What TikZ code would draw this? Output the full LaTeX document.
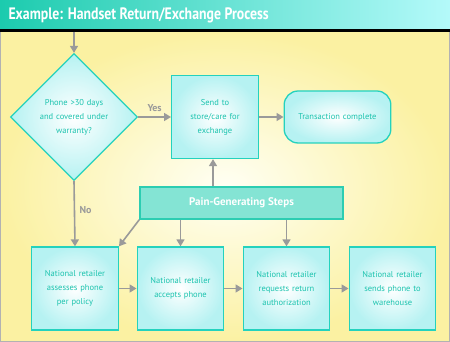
\documentclass[tikz,border=0pt]{standalone}
\usepackage{fontspec}
\setmainfont{PT Sans}
\usepackage{xcolor}
\usetikzlibrary{arrows.meta, positioning, shapes.geometric, calc}

\definecolor{bgyellow}{HTML}{FBF1A2}
\definecolor{bgpale}{HTML}{FFFFF4}
\definecolor{boxline}{HTML}{24D2BE}
\definecolor{boxfill}{HTML}{B6F2F2}
\definecolor{tealtext}{HTML}{1BC3AE}
\definecolor{painfill}{HTML}{84E4D4}
\definecolor{painline}{HTML}{2CCDB2}
\definecolor{arrowgray}{HTML}{9A9A9A}
\definecolor{titleleft}{HTML}{1CCBAE}
\definecolor{titleright}{HTML}{B4FAFA}

\begin{document}
\begin{tikzpicture}[x=1pt, y=1pt,
  stepbox/.style={draw=boxline, line width=1.3pt, inner color=white, outer color=boxfill,
    minimum width=84pt, minimum height=83pt, text width=80pt, align=center,
    font=\fontsize{8.5}{14}\selectfont, text=tealtext},
  flow/.style={draw=arrowgray, line width=1.6pt, -{Triangle[length=7pt, width=8pt]}},
  flowlabel/.style={text=arrowgray, font=\fontsize{10}{11}\selectfont\bfseries}]

% frame, background and title bar
\useasboundingbox (0,0) rectangle (450,342);
\shade[inner color=bgpale, outer color=bgyellow] (0,0) rectangle (450,310);
\draw[color=black!30, line width=2pt] (0,0) rectangle (450,342);
\shade[left color=titleleft, right color=titleright] (0,313) rectangle (450,342);
\draw[black, line width=3pt] (0,311.5) -- (450,311.5);
\node[anchor=west, text=white, font=\fontsize{13.8}{16}\selectfont\bfseries] (title) at (5,327) {\scalebox{1}[1.2]{Example: Handset Return/Exchange Process}};

% top row
\coordinate (start) at (74,310);
\node[draw=boxline, line width=1.3pt, diamond, aspect=1, minimum width=127pt, minimum height=127pt, inner sep=0pt,
  inner color=white, outer color=boxfill, text width=80pt, align=center,
  font=\fontsize{8.5}{14}\selectfont, text=tealtext] (check) at (74,225) {Phone >30 days\\ and covered under\\ warranty?};
\node[stepbox] (send) at (215,225) {Send to\\ store/care for\\ exchange};
\node[stepbox, rounded corners=14pt, minimum width=105pt, minimum height=52pt, text width=100pt] (done) at (337.5,225) {Transaction complete};

% pain box
\node[draw=painline, fill=painfill, line width=1.5pt, minimum width=203pt, minimum height=32pt,
  text=white, font=\fontsize{11}{12}\selectfont\bfseries] (pain) at (241.5,139) {Pain-Generating Steps};

% bottom row
\node[stepbox] (assess)  at (75,53.5)    {National retailer\\ assesses phone\\ per policy};
\node[stepbox] (accept)  at (180.5,53.5) {National retailer\\ accepts phone};
\node[stepbox] (request) at (286.5,53.5) {National retailer\\ requests return\\ authorization};
\node[stepbox] (ship)    at (392.5,53.5) {National retailer\\ sends phone to\\ warehouse};

% arrows
\draw[flow] (start) -- (check.north);
\draw[flow] (check.east) -- node[flowlabel, above=1pt] {Yes} (send.west);
\draw[flow] (send.east) -- (done.west);
\draw[flow] (check.south) -- node[flowlabel, right=1pt, pos=0.45] {No} (assess.north);
\draw[flow] (pain.north -| send.south) ++(-2,0) coordinate (painup) -- (painup |- send.south);
\draw[flow] (pain.south west) -- (assess.north east);
\draw[flow] (pain.south -| accept.north) -- (accept.north);
\draw[flow] (pain.south -| request.north) -- (request.north);
\draw[flow] (assess.east) -- (accept.west);
\draw[flow] (accept.east) -- (request.west);
\draw[flow] (request.east) -- (ship.west);

\end{tikzpicture}
\end{document}
